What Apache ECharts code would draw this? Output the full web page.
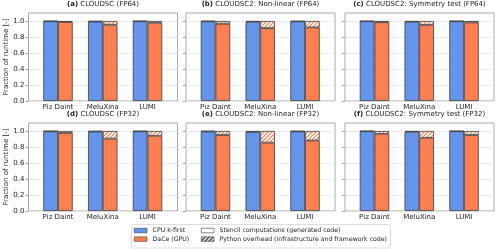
<!DOCTYPE html>
<html><head><meta charset="utf-8">
<script src="https://cdn.jsdelivr.net/npm/echarts@6/dist/echarts.min.js"></script>
<style>html,body{margin:0;padding:0;background:#fff}#c{width:500px;height:252px}</style>
</head><body><div id="c"></div>
<script>
const categories = ['Piz Daint', 'MeluXina', 'LUMI'];
const panelLabels = ['(a)', '(b)', '(c)', '(d)', '(e)', '(f)'];
const panelNames = ['CLOUDSC (FP64)', 'CLOUDSC2: Non-linear (FP64)', 'CLOUDSC2: Symmetry test (FP64)',
                    'CLOUDSC (FP32)', 'CLOUDSC2: Non-linear (FP32)', 'CLOUDSC2: Symmetry test (FP32)'];
const yTicks = [0, 0.2, 0.4, 0.6, 0.8, 1.0];
const yTickLabels = ['0.0', '0.2', '0.4', '0.6', '0.8', '1.0'];
const seriesNames = ['CPU k-first', 'DaCe (GPU)', 'Stencil computations (generated code)', 'Python overhead (infrastructure and framework code)'];

// fraction of runtime: stencil computations and python overhead, per panel (a..f)
const cpuStencil = [
  [0.997, 0.993, 0.997],
  [0.996, 0.990, 0.995],
  [0.997, 0.990, 0.997],
  [0.996, 0.993, 0.996],
  [0.995, 0.988, 0.995],
  [0.997, 0.990, 0.997]
];
const cpuOverhead = [
  [0.003, 0.007, 0.003],
  [0.004, 0.010, 0.005],
  [0.003, 0.010, 0.003],
  [0.004, 0.007, 0.004],
  [0.005, 0.012, 0.005],
  [0.003, 0.010, 0.003]
];
const gpuStencil = [
  [0.988, 0.953, 0.978],
  [0.966, 0.911, 0.920],
  [0.985, 0.952, 0.982],
  [0.975, 0.905, 0.940],
  [0.950, 0.855, 0.882],
  [0.965, 0.915, 0.950]
];
const gpuOverhead = [
  [0.012, 0.047, 0.022],
  [0.034, 0.089, 0.080],
  [0.015, 0.048, 0.018],
  [0.025, 0.095, 0.060],
  [0.050, 0.145, 0.118],
  [0.035, 0.085, 0.050]
];

const BLUE = '#6495ED', ORANGE = '#FF7F50', EDGE = '#3c3c3c';
const FONT = 'DejaVu Sans';

function hatch(color) {
  const s = 4;
  const c = document.createElement('canvas');
  c.width = s; c.height = s;
  const g = c.getContext('2d');
  g.fillStyle = '#fff'; g.fillRect(0, 0, s, s);
  g.strokeStyle = color; g.lineWidth = 1.2;
  g.beginPath();
  g.moveTo(-1, 1); g.lineTo(1, -1);
  g.moveTo(0, s); g.lineTo(s, 0);
  g.moveTo(s - 1, s + 1); g.lineTo(s + 1, s - 1);
  g.stroke();
  return { image: c, repeat: 'repeat' };
}

const colLeft = [28.5, 186, 345];
const rowTop = [13, 123];
const W = 149, H = 88;
const innerOff = 7.1, innerW = 134.3;

const grid = [], xAxis = [], yAxis = [], series = [], title = [];
for (let i = 0; i < 6; i++) {
  const col = i % 3, row = Math.floor(i / 3);
  const L = colLeft[col], T = rowTop[row];
  // frame grid
  grid.push({ left: L, top: T, width: W, height: H, show: true, borderColor: '#a8a8a8', borderWidth: 1, backgroundColor: '#fff' });
  xAxis.push({ gridIndex: 2 * i, type: 'value', min: 0, max: 1, show: false });
  yAxis.push({
    gridIndex: 2 * i, type: 'value', min: 0, max: 1.1, interval: 0.2,
    axisLine: { show: false },
    axisTick: { show: true, length: 3, lineStyle: { color: '#888', width: 0.8 }, customValues: yTicks },
    axisLabel: {
      show: col === 0, fontSize: 7, color: '#222', margin: 4, fontFamily: FONT,
      customValues: yTicks,
      formatter: v => yTickLabels[yTicks.findIndex(t => Math.abs(t - v) < 1e-6)] || ''
    },
    splitLine: { show: true, lineStyle: { color: '#e8e8e8', width: 0.8 } },
    name: col === 0 ? 'Fraction of runtime [-]' : '',
    nameLocation: 'middle', nameGap: 16,
    nameTextStyle: { fontSize: 7, color: '#222', fontFamily: FONT }
  });
  // bar grid
  grid.push({ left: L + innerOff, top: T, width: innerW, height: H, show: false });
  xAxis.push({
    gridIndex: 2 * i + 1, type: 'category', data: categories, boundaryGap: true,
    axisLine: { show: false }, axisTick: { show: false },
    axisLabel: { fontSize: 7, color: '#222', margin: 3, fontFamily: FONT }
  });
  yAxis.push({ gridIndex: 2 * i + 1, type: 'value', min: 0, max: 1.1, show: false });

  const common = { type: 'bar', xAxisIndex: 2 * i + 1, yAxisIndex: 2 * i + 1, barWidth: 14.7, barGap: '0%', animation: false };
  series.push(Object.assign({}, common, { name: seriesNames[0], stack: 'cpu' + i, data: cpuStencil[i],
    itemStyle: { color: BLUE, borderColor: EDGE, borderWidth: 0.8 } }));
  series.push(Object.assign({}, common, { name: 'cpu overhead', stack: 'cpu' + i, data: cpuOverhead[i],
    itemStyle: { color: hatch(BLUE), borderColor: EDGE, borderWidth: 0.8 } }));
  series.push(Object.assign({}, common, { name: seriesNames[1], stack: 'gpu' + i, data: gpuStencil[i],
    itemStyle: { color: ORANGE, borderColor: EDGE, borderWidth: 0.8 } }));
  series.push(Object.assign({}, common, { name: 'gpu overhead', stack: 'gpu' + i, data: gpuOverhead[i],
    itemStyle: { color: hatch(ORANGE), borderColor: EDGE, borderWidth: 0.8 } }));

  title.push({
    text: '{b|' + panelLabels[i] + '} ' + panelNames[i],
    left: L + W / 2, textAlign: 'center', top: T - 12,
    padding: 0,
    textStyle: { fontSize: 7, color: '#222', fontWeight: 'normal', fontFamily: FONT,
      rich: { b: { fontSize: 7, fontWeight: 'bold', color: '#222', fontFamily: FONT } } }
  });
}
// hidden grid for legend-only entries
grid.push({ left: 0, top: 0, width: 1, height: 1, show: false });
xAxis.push({ gridIndex: 12, type: 'category', data: categories, show: false });
yAxis.push({ gridIndex: 12, type: 'value', show: false });
series.push({ type: 'bar', name: seriesNames[2], xAxisIndex: 12, yAxisIndex: 12, data: [],
  itemStyle: { color: '#fff', borderColor: EDGE, borderWidth: 0.8 } });
series.push({ type: 'bar', name: seriesNames[3], xAxisIndex: 12, yAxisIndex: 12, data: [],
  itemStyle: { color: hatch('#111'), borderColor: EDGE, borderWidth: 0.8 } });

const legendCommon = {
  orient: 'vertical', top: 226.5, padding: 0, itemWidth: 12.7, itemHeight: 4.5, itemGap: 0.6,
  icon: 'rect', selectedMode: false,
  textStyle: { fontSize: 6.2, color: '#222', fontFamily: FONT, lineHeight: 8, padding: [0, 0, 0, 0.6] }
};
const legend = [
  Object.assign({}, legendCommon, { left: 134, data: [
    { name: seriesNames[0], itemStyle: { color: BLUE, borderColor: EDGE, borderWidth: 0.6 } },
    { name: seriesNames[1], itemStyle: { color: ORANGE, borderColor: EDGE, borderWidth: 0.6 } }] }),
  Object.assign({}, legendCommon, { left: 201, data: [
    { name: seriesNames[2], itemStyle: { color: '#fff', borderColor: EDGE, borderWidth: 0.6 } },
    { name: seriesNames[3], itemStyle: { color: hatch('#111'), borderColor: EDGE, borderWidth: 0.6 } }] })
];

const chart = echarts.init(document.getElementById('c'), null, { renderer: 'canvas' });
chart.setOption({
  animation: false,
  backgroundColor: '#fff',
  textStyle: { fontFamily: FONT },
  title, grid, xAxis, yAxis, series, legend,
  graphic: [{ type: 'rect', z: 0, shape: { x: 131.5, y: 224.5, width: 259, height: 23.5, r: 2 },
    style: { fill: 'none', stroke: '#d4d4d4', lineWidth: 0.8 } }]
});
</script>
</body></html>
